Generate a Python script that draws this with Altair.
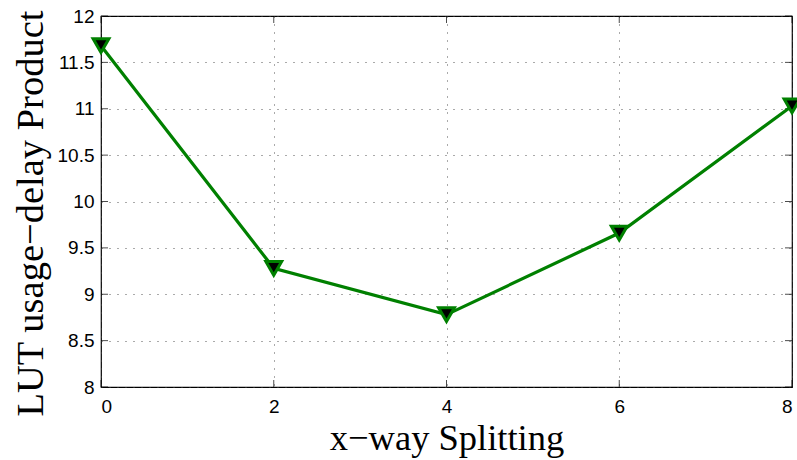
import altair as alt
import pandas as pd

splits = [0, 2, 4, 6, 8]
products = [11.68, 9.28, 8.78, 9.66, 11.03]
x_ticks = [0, 2, 4, 6, 8]
y_ticks = [8, 8.5, 9, 9.5, 10, 10.5, 11, 11.5, 12]

df = pd.DataFrame({"split": splits, "product": products})
dfx = pd.DataFrame({"t": x_ticks})
dfy = pd.DataFrame({"t": y_ticks})

GREEN = "#008000"
xs = alt.Scale(domain=[0, 8], nice=False, zero=False)
ys = alt.Scale(domain=[8, 12], nice=False, zero=False)

x_axis = alt.Axis(values=x_ticks, title="x−way Splitting", ticks=False,
                  labelPadding=10, format="~g", titleFontSize=36.5,
                  titleY=62, titleBaseline="alphabetic")
y_axis = alt.Axis(values=y_ticks, title="LUT usage−delay Product", ticks=False,
                  labelPadding=7, format=".3~g", titleFontSize=38.5,
                  titleX=-59, titleY=197, titleBaseline="alphabetic", titleAngle=270)

base = alt.Chart(df)
line = base.mark_line(color=GREEN, strokeWidth=3.2).encode(
    x=alt.X("split:Q", scale=xs, axis=x_axis),
    y=alt.Y("product:Q", scale=ys, axis=y_axis),
)
points = base.mark_point(shape="triangle-down", filled=True, fill="black",
                         stroke=GREEN, strokeWidth=3, size=250, opacity=1).encode(
    x=alt.X("split:Q", scale=xs),
    y=alt.Y("product:Q", scale=ys),
)

tl = alt.Chart(dfy).mark_tick(orient="horizontal", size=7, thickness=1, color="black",
                              xOffset=3.5).encode(x=alt.datum(0, scale=xs), y=alt.Y("t:Q", scale=ys))
tr = alt.Chart(dfy).mark_tick(orient="horizontal", size=7, thickness=1, color="black",
                              xOffset=-3.5).encode(x=alt.datum(8, scale=xs), y=alt.Y("t:Q", scale=ys))
tb = alt.Chart(dfx).mark_tick(orient="vertical", size=7, thickness=1, color="black",
                              yOffset=-3.5).encode(x=alt.X("t:Q", scale=xs), y=alt.datum(8, scale=ys))
tt = alt.Chart(dfx).mark_tick(orient="vertical", size=7, thickness=1, color="black",
                              yOffset=3.5).encode(x=alt.X("t:Q", scale=xs), y=alt.datum(12, scale=ys))

chart = alt.layer(tl, tr, tb, tt, line, points).properties(
    width=691, height=371,
    autosize=alt.AutoSizeParams(type="none"),
    padding={"left": 101, "top": 16, "right": 5, "bottom": 73},
    background="white",
).configure_view(
    stroke="black", strokeWidth=1.2
).configure_axis(
    domain=False,
    grid=True, gridColor="#444", gridDash=[1, 7], gridWidth=1, gridOpacity=0.9,
    labelFont="Liberation Sans", labelFontSize=19, labelColor="black",
    titleFont="Liberation Serif", titleFontWeight="normal",
    titleColor="black",
)

chart.save("out.html", embed_options={"renderer": "svg", "actions": False})
